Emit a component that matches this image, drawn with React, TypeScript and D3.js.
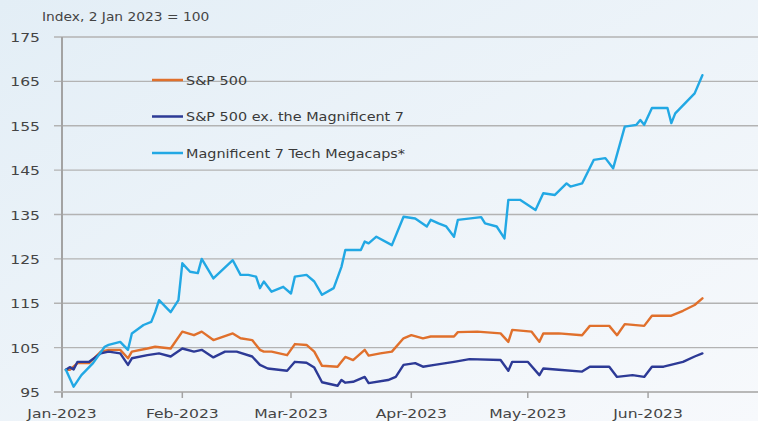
import React from "react";
import * as d3 from "d3";

const title = "Index, 2 Jan 2023 = 100";
const yTicks = [95, 105, 115, 125, 135, 145, 155, 165, 175];
const xTickDates = ["2023-01-01", "2023-02-01", "2023-03-01", "2023-04-01", "2023-05-01", "2023-06-01"];
const xTickLabels = ["Jan-2023", "Feb-2023", "Mar-2023", "Apr-2023", "May-2023", "Jun-2023"];
const seriesNames = ["S&P 500", "S&P 500 ex. the Magnificent 7", "Magnificent 7 Tech Megacaps*"];

const spDates = ["2023-01-02","2023-01-03","2023-01-05","2023-01-08","2023-01-11","2023-01-13","2023-01-16","2023-01-18","2023-01-19","2023-01-23","2023-01-25","2023-01-29","2023-02-01","2023-02-04","2023-02-06","2023-02-09","2023-02-14","2023-02-16","2023-02-19","2023-02-21","2023-02-22","2023-02-24","2023-02-28","2023-03-02","2023-03-05","2023-03-07","2023-03-09","2023-03-13","2023-03-14","2023-03-15","2023-03-17","2023-03-20","2023-03-21","2023-03-24","2023-03-27","2023-03-30","2023-04-01","2023-04-04","2023-04-06","2023-04-12","2023-04-13","2023-04-18","2023-04-24","2023-04-26","2023-04-27","2023-05-02","2023-05-04","2023-05-05","2023-05-09","2023-05-15","2023-05-17","2023-05-22","2023-05-24","2023-05-26","2023-05-31","2023-06-02","2023-06-07","2023-06-10","2023-06-13","2023-06-15"];
const spValues = [100,100,101.5,101.5,104.1,104.5,104.5,102.6,104.1,104.8,105.2,104.8,108.6,107.8,108.6,106.7,108.2,107.1,106.7,104.5,104.1,104.1,103.3,105.8,105.6,104.1,100.9,100.7,101.8,102.9,102.2,104.5,103.2,103.7,104.1,107.1,107.8,107.1,107.5,107.5,108.5,108.6,108.2,106.3,109,108.6,106.3,108.2,108.2,107.8,109.9,109.9,107.8,110.3,109.9,112.2,112.2,113.3,114.6,116.1];

const exDates = ["2023-01-02","2023-01-03","2023-01-04","2023-01-05","2023-01-08","2023-01-11","2023-01-13","2023-01-16","2023-01-18","2023-01-19","2023-01-23","2023-01-26","2023-01-29","2023-02-01","2023-02-04","2023-02-06","2023-02-09","2023-02-12","2023-02-15","2023-02-19","2023-02-21","2023-02-23","2023-02-28","2023-03-02","2023-03-05","2023-03-07","2023-03-09","2023-03-13","2023-03-14","2023-03-15","2023-03-17","2023-03-20","2023-03-21","2023-03-26","2023-03-28","2023-03-30","2023-04-02","2023-04-04","2023-04-07","2023-04-12","2023-04-16","2023-04-24","2023-04-26","2023-04-27","2023-05-01","2023-05-04","2023-05-05","2023-05-09","2023-05-15","2023-05-17","2023-05-22","2023-05-24","2023-05-28","2023-05-31","2023-06-02","2023-06-05","2023-06-10","2023-06-13","2023-06-15"];
const exValues = [100,100.6,100.1,101.8,101.8,103.7,104.1,103.7,101.1,102.6,103.3,103.7,103,104.8,104.1,104.5,102.8,104.1,104.1,103,101.1,100.3,99.8,101.8,101.6,100.5,97.2,96.4,97.7,97.1,97.3,98.4,97,97.7,98.4,101.1,101.5,100.7,101.1,101.8,102.4,102.2,99.8,101.8,101.8,98.8,100.3,100,99.6,100.7,100.7,98.4,98.8,98.4,100.7,100.7,101.8,103,103.7];

const m7Dates = ["2023-01-02","2023-01-04","2023-01-06","2023-01-09","2023-01-12","2023-01-13","2023-01-16","2023-01-18","2023-01-19","2023-01-22","2023-01-24","2023-01-25","2023-01-26","2023-01-29","2023-01-31","2023-02-01","2023-02-03","2023-02-05","2023-02-06","2023-02-09","2023-02-14","2023-02-16","2023-02-18","2023-02-20","2023-02-21","2023-02-22","2023-02-24","2023-02-27","2023-03-01","2023-03-02","2023-03-05","2023-03-07","2023-03-09","2023-03-12","2023-03-14","2023-03-15","2023-03-19","2023-03-20","2023-03-21","2023-03-23","2023-03-27","2023-03-30","2023-04-02","2023-04-05","2023-04-06","2023-04-08","2023-04-10","2023-04-12","2023-04-13","2023-04-19","2023-04-20","2023-04-23","2023-04-25","2023-04-26","2023-04-29","2023-05-03","2023-05-05","2023-05-08","2023-05-11","2023-05-12","2023-05-15","2023-05-18","2023-05-21","2023-05-23","2023-05-26","2023-05-29","2023-05-30","2023-05-31","2023-06-02","2023-06-06","2023-06-07","2023-06-08","2023-06-13","2023-06-15"];
const m7Values = [100,96.2,98.8,101.5,105.2,105.6,106.3,104.5,108.2,110.1,110.8,113,115.7,113,115.7,124,122.1,121.8,125,120.6,124.7,121.4,121.4,121,118.4,119.9,117.6,118.7,117.2,121,121.4,119.9,116.9,118.4,123.2,127,127,128.9,128.5,130,128.1,134.5,134.1,132.3,133.8,133,132.3,130,133.8,134.4,133,132.3,129.6,138.3,138.3,136,139.8,139.4,142,141.3,142,147.3,147.7,145.4,154.8,155.2,156.3,155.2,159,159,155.6,157.8,162.3,166.4];

const colors = ["#e0702c", "#2d3a96", "#22a8e4"];

const W = 758;
const H = 421;
const parse = d3.timeParse("%Y-%m-%d");
const FONT = "DejaVu Sans, sans-serif";
const SX = 1.2;

export default function App() {
  const x = d3.scaleTime().domain([new Date(2023, 0, 1), new Date(2023, 6, 1)]).range([62, 764.5]);
  const y = d3.scaleLinear().domain([95, 175]).range([392, 37]);

  const series = [
    { name: seriesNames[0], dates: spDates, values: spValues, color: colors[0] },
    { name: seriesNames[1], dates: exDates, values: exValues, color: colors[1] },
    { name: seriesNames[2], dates: m7Dates, values: m7Values, color: colors[2] },
  ];

  const line = d3
    .line<[Date, number]>()
    .x((d) => x(d[0]))
    .y((d) => y(d[1]));

  const txt = (key: string, tx: number, ty: number, s: string, size: number, anchor: string, fill = "#3a3a3a") => (
    <text
      key={key}
      transform={`translate(${tx},${ty}) scale(${SX},1)`}
      fontFamily={FONT}
      fontSize={size}
      textAnchor={anchor}
      fill={fill}
    >
      {s}
    </text>
  );

  return (
    <svg width={W} height={H} style={{ position: "absolute", left: 0, top: 0 }}>
      <defs>
        <linearGradient id="bg" x1="0" y1="0" x2="1" y2="1">
          <stop offset="0" stopColor="#e3eef6" />
          <stop offset="1" stopColor="#f7f9fc" />
        </linearGradient>
      </defs>
      <rect x={0} y={0} width={W} height={H} fill="url(#bg)" />

      {txt("title", 42, 21, title, 11.5, "start", "#444")}

      {yTicks.map((t) => (
        <g key={"g" + t}>
          <line x1={54} x2={W} y1={y(t)} y2={y(t)} stroke="#b3b3b3" strokeWidth={1.3} />
          {txt("yl" + t, 40, y(t) + 5, String(t), 13, "end", "#444")}
        </g>
      ))}
      <line x1={62} x2={62} y1={y(175)} y2={y(95) + 5} stroke="#a3a3a3" strokeWidth={2} />
      <line x1={54} x2={W} y1={y(95)} y2={y(95)} stroke="#b8b8b8" strokeWidth={2} />
      {xTickDates.map((ds, i) => {
        const xv = x(parse(ds) as Date);
        return (
          <g key={"x" + ds}>
            <line x1={xv} x2={xv} y1={y(95)} y2={y(95) + 6} stroke="#a3a3a3" strokeWidth={1.5} />
            {txt("xl" + ds, xv, 418, xTickLabels[i], 13, "middle", "#444")}
          </g>
        );
      })}

      {series.map((s) => (
        <path
          key={s.name}
          d={line(s.dates.map((ds, i) => [parse(ds) as Date, s.values[i]] as [Date, number])) || ""}
          fill="none"
          stroke={s.color}
          strokeWidth={2.4}
          strokeLinejoin="round"
          strokeLinecap="round"
        />
      ))}

      {series.map((s, i) => {
        const ly = 80 + i * 36.5;
        return (
          <g key={"leg" + i}>
            <line x1={152} x2={183} y1={ly} y2={ly} stroke={s.color} strokeWidth={2.5} />
            {txt("lt" + i, 186, ly + 4.5, s.name, 12, "start", "#3a3a3a")}
          </g>
        );
      })}
    </svg>
  );
}
